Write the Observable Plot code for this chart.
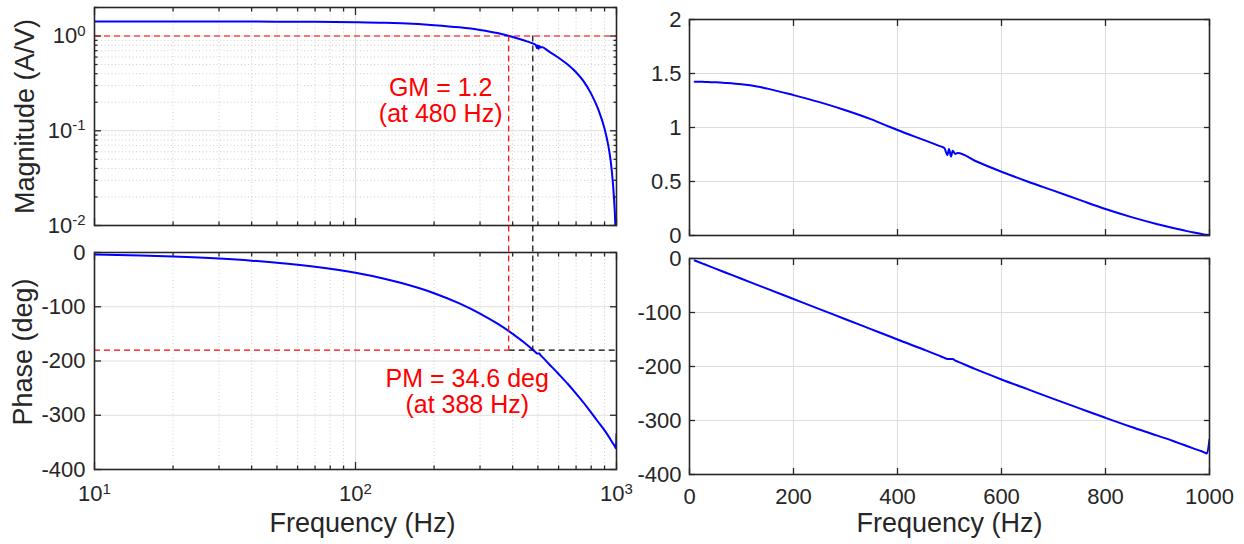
<!DOCTYPE html>
<html><head><meta charset="utf-8">
<script src="https://cdn.jsdelivr.net/npm/d3@7"></script>
<script src="https://cdn.jsdelivr.net/npm/@observablehq/plot@0.6"></script>
<style>
body{margin:0;background:#fff;}
#chart{position:relative;width:1244px;height:544px;overflow:hidden;font-family:"Liberation Sans",Arial,sans-serif;}
#chart svg{position:absolute;left:0;top:0;}
</style></head><body><div id="chart"></div>
<script>
// ---- data ----
const freq = [10, 15, 20, 30, 40, 50, 70, 100, 130, 150, 200, 250, 300, 350, 388, 400, 450, 480, 490, 496, 499, 503, 506, 511, 516, 550, 600, 650, 700, 750, 800, 850, 900, 930, 950, 970, 985, 995, 1000];
const magnitude = [1.424, 1.424, 1.423, 1.422, 1.42, 1.418, 1.412, 1.40, 1.38, 1.36, 1.30, 1.235, 1.16, 1.075, 1.00, 0.977, 0.885, 0.83, 0.81, 0.745, 0.80, 0.73, 0.785, 0.755, 0.765, 0.69, 0.59, 0.50, 0.415, 0.33, 0.245, 0.17, 0.105, 0.07, 0.048, 0.027, 0.014, 0.007, 0.005];
const phase = [-3.7, -5.6, -7.5, -11.2, -15, -18.8, -26.3, -37.5, -48.8, -56.3, -75, -93.7, -112.5, -131.2, -145.4, -150, -168.5, -180, -184, -186, -186, -186, -186, -189, -191, -205, -224, -242, -260, -277.5, -295, -312, -328, -338, -345, -352, -357, -361, -335];

const logMajorX = [10, 100, 1000];
const logMinorX = [20, 30, 40, 50, 60, 70, 80, 90, 200, 300, 400, 500, 600, 700, 800, 900];
const magMajorY = [0.01, 0.1, 1];
const magMinorY = [0.02, 0.03, 0.04, 0.05, 0.06, 0.07, 0.08, 0.09, 0.2, 0.3, 0.4, 0.5, 0.6, 0.7, 0.8, 0.9, 2];
const phaseTicks = [-400, -300, -200, -100, 0];
const linFreqTicks = [0, 200, 400, 600, 800, 1000];
const linMagTicks = [0, 0.5, 1, 1.5, 2];

const pmFreq = 388, gmFreq = 480;      // crossover frequencies (Hz)
const unityGain = 1, phaseLimit = -180;
const gmNote = ["GM = 1.2\n(at 480 Hz)"];
const pmNote = ["PM = 34.6 deg\n(at 388 Hz)"];
const gmNotePos = {f: 212, v: 0.21};
const pmNotePos = {f: 268, v: -256};

const rows = freq.map((f, i) => ({f, m: magnitude[i], p: phase[i]}));

// ---- layout ----
const W = 1244, H = 544;
const ink = "#262626", gridC = "#dedede", minorC = "#cfcfcf";
const FONT = "'Liberation Sans', Arial, Helvetica, sans-serif";
function margins(x0, x1, y0, y1) {
  return {marginLeft: x0, marginRight: W - x1, marginTop: y0, marginBottom: H - y1};
}
const powFmt = d => "10^" + Math.round(Math.log10(d));
const plainFmt = d => String(d);

// inward-pointing ticks on all four sides of the frame
function tickMarks(dim, ticks, size) {
  const common = {tickSize: size, tickFormat: () => "", stroke: ink, strokeWidth: 1.3, label: null};
  if (dim === "x") return [
    Plot.axisX(ticks, {...common, anchor: "bottom", dy: -size}),
    Plot.axisX(ticks, {...common, anchor: "top", dy: size})
  ];
  return [
    Plot.axisY(ticks, {...common, anchor: "left", dx: size}),
    Plot.axisY(ticks, {...common, anchor: "right", dx: -size})
  ];
}
function tickLabels(dim, ticks, fmt, pad) {
  const A = dim === "x" ? Plot.axisX : Plot.axisY;
  return A(ticks, {anchor: dim === "x" ? "bottom" : "left", tickSize: 0, tickPadding: pad, tickFormat: fmt,
    fontSize: 22, fill: ink, label: null});
}
function yTitle(t, dx, dy) {
  return Plot.text([t], {frameAnchor: "left", dx, dy, rotate: -90, fontSize: 27, fill: ink, textAnchor: "middle", lineAnchor: "middle"});
}
function xTitle(t, dx, dy) {
  return Plot.text([t], {frameAnchor: "bottom", dx, dy, fontSize: 27, fill: ink, textAnchor: "middle", lineAnchor: "middle"});
}
function make(opts) {
  const p = Plot.plot({width: W, height: H, ...opts, style: {background: "transparent", fontFamily: FONT, overflow: "visible"}});
  document.getElementById("chart").appendChild(p);
  d3.select(p).selectAll("text").each(function () {
    const t = this.textContent, m = /^10\^(-?\d+)$/.exec(t);
    if (!m) return;
    const s = d3.select(this); s.text(null);
    s.append("tspan").text("10");
    s.append("tspan").attr("dy", "-0.5em").attr("font-size", "0.68em").text(m[1]);
  });
  return p;
}
const curveOpts = {stroke: "#0000ff", strokeWidth: 2, clip: true, curve: "monotone-x"};

// ---- top-left: magnitude, log-log ----
const magLog = make({
  ...margins(94, 616, 7, 225),
  x: {type: "log", domain: [10, 1000]},
  y: {type: "log", domain: [0.01, 2]},
  marks: [
    Plot.gridX(logMinorX, {stroke: minorC, strokeOpacity: 1, strokeDasharray: "1,2.5"}),
    Plot.gridY(magMinorY, {stroke: minorC, strokeOpacity: 1, strokeDasharray: "1,2.5"}),
    Plot.gridX(logMajorX, {stroke: gridC, strokeOpacity: 1}),
    Plot.gridY(magMajorY, {stroke: gridC, strokeOpacity: 1}),
    ...tickMarks("x", logMinorX, 3.5), ...tickMarks("x", logMajorX, 7),
    ...tickMarks("y", magMinorY, 3.5), ...tickMarks("y", magMajorY, 7),
    tickLabels("y", magMajorY, powFmt, 9),
    Plot.ruleY([unityGain], {stroke: "#ff0000", strokeWidth: 1.2, strokeDasharray: "6,4"}),
    Plot.line(rows, {x: "f", y: "m", ...curveOpts}),
    Plot.text(gmNote, {x: () => gmNotePos.f, y: () => gmNotePos.v, fill: "#ff0000", fontSize: 25, lineHeight: 1.05, textAnchor: "middle", lineAnchor: "middle"}),
    Plot.frame({stroke: ink, strokeWidth: 1.6}),
    yTitle("Magnitude (A/V)", -69, 0)
  ]
});

// ---- bottom-left: phase, log x ----
const phLog = make({
  ...margins(94, 616, 252, 469),
  x: {type: "log", domain: [10, 1000]},
  y: {domain: [-400, 0]},
  marks: [
    Plot.gridX(logMinorX, {stroke: minorC, strokeOpacity: 1, strokeDasharray: "1,2.5"}),
    Plot.gridX(logMajorX, {stroke: gridC, strokeOpacity: 1}),
    Plot.gridY(phaseTicks, {stroke: gridC, strokeOpacity: 1}),
    ...tickMarks("x", logMinorX, 3.5), ...tickMarks("x", logMajorX, 7),
    ...tickMarks("y", phaseTicks, 7),
    tickLabels("x", logMajorX, powFmt, 16),
    tickLabels("y", phaseTicks, plainFmt, 9),
    Plot.ruleY([phaseLimit], {x1: 10, x2: pmFreq, stroke: "#ff0000", strokeWidth: 1.2, strokeDasharray: "6,4"}),
    Plot.ruleY([phaseLimit], {x1: pmFreq, x2: 1000, stroke: "#000000", strokeWidth: 1.2, strokeDasharray: "6,4"}),
    Plot.line(rows, {x: "f", y: "p", ...curveOpts}),
    Plot.text(pmNote, {x: () => pmNotePos.f, y: () => pmNotePos.v, fill: "#ff0000", fontSize: 25, lineHeight: 1.05, textAnchor: "middle", lineAnchor: "middle"}),
    Plot.frame({stroke: ink, strokeWidth: 1.6}),
    yTitle("Phase (deg)", -71, -9),
    xTitle("Frequency (Hz)", 7, 54)
  ]
});

// ---- top-right: magnitude, linear ----
const magLin = make({
  ...margins(689, 1209, 19, 235),
  x: {domain: [0, 1000]},
  y: {domain: [0, 2]},
  marks: [
    Plot.gridX(linFreqTicks, {stroke: gridC, strokeOpacity: 1}),
    Plot.gridY(linMagTicks, {stroke: gridC, strokeOpacity: 1}),
    ...tickMarks("x", linFreqTicks, 6), ...tickMarks("y", linMagTicks, 6),
    tickLabels("y", linMagTicks, plainFmt, 8),
    Plot.line(rows, {x: "f", y: "m", ...curveOpts}),
    Plot.frame({stroke: ink, strokeWidth: 1.6})
  ]
});

// ---- bottom-right: phase, linear ----
const phLin = make({
  ...margins(689, 1209, 258, 474),
  x: {domain: [0, 1000]},
  y: {domain: [-400, 0]},
  marks: [
    Plot.gridX(linFreqTicks, {stroke: gridC, strokeOpacity: 1}),
    Plot.gridY(phaseTicks, {stroke: gridC, strokeOpacity: 1}),
    ...tickMarks("x", linFreqTicks, 6), ...tickMarks("y", phaseTicks, 6),
    tickLabels("x", linFreqTicks, plainFmt, 14),
    tickLabels("y", phaseTicks, plainFmt, 8),
    Plot.line(rows, {x: "f", y: "p", ...curveOpts}),
    Plot.frame({stroke: ink, strokeWidth: 1.6}),
    xTitle("Frequency (Hz)", 0, 49)
  ]
});

// ---- dashed verticals spanning both left panels (positions from Plot scales) ----
const sx = magLog.scale("x"), syTop = magLog.scale("y"), syBot = phLog.scale("y");
const ov = d3.select("#chart").append("svg").attr("width", W).attr("height", H);
[[pmFreq, "#ff0000"], [gmFreq, "#000000"]].forEach(([f, c]) => {
  ov.append("line")
    .attr("x1", sx.apply(f)).attr("x2", sx.apply(f))
    .attr("y1", syTop.apply(unityGain)).attr("y2", syBot.apply(phaseLimit))
    .attr("stroke", c).attr("stroke-width", 1.2).attr("stroke-dasharray", "6,4");
});
</script></body></html>
